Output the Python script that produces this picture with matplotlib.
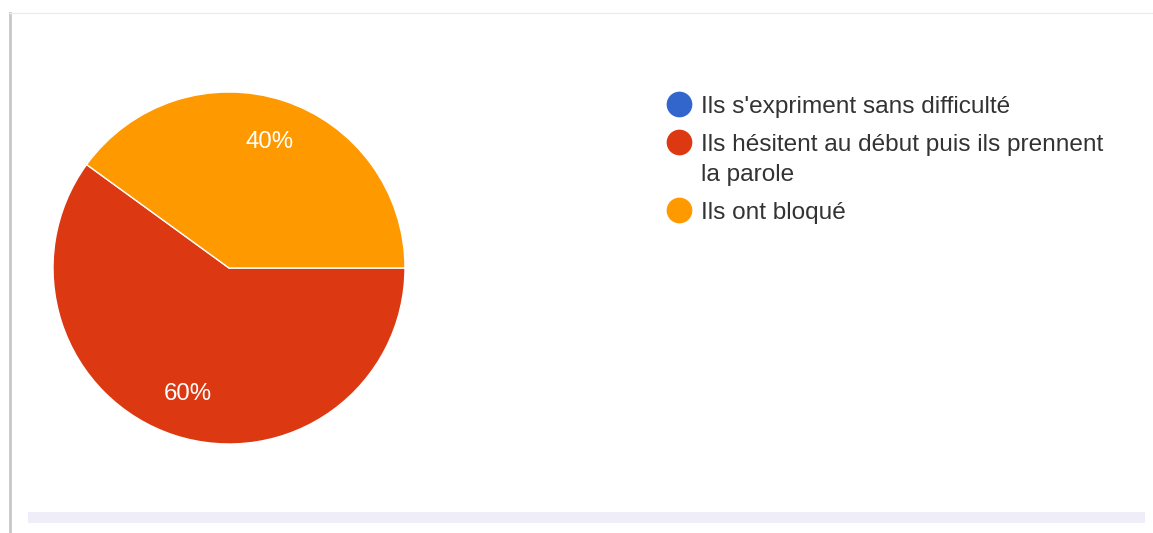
import matplotlib
matplotlib.use("Agg")
import matplotlib.pyplot as plt
from matplotlib.patches import Rectangle
from matplotlib.lines import Line2D

plt.rcParams['font.family'] = ['Liberation Sans', 'DejaVu Sans']

labels = ["Ils s'expriment sans difficulté",
          "Ils hésitent au début puis ils prennent\nla parole",
          "Ils ont bloqué"]
values = [0, 60, 40]
colors = ["#3366cc", "#dc3912", "#ff9900"]

W, H = 1153, 533
fig = plt.figure(figsize=(W / 100, H / 100), dpi=100)
fig.patch.set_facecolor("white")

# overlay in pixel coordinates for frame and legend
ov = fig.add_axes([0, 0, 1, 1])
ov.set_xlim(0, W)
ov.set_ylim(H, 0)
ov.axis("off")
ov.add_line(Line2D([10, 10], [13, H], color="#c8c8c8", lw=2))
ov.add_line(Line2D([10, W], [13, 13], color="#ececec", lw=1))
ov.add_patch(Rectangle((28, 512), 1117, 11, color="#efeef8", lw=0))

# pie
cx, cy, r = 229, 268, 176
ax = fig.add_axes([(cx - r) / W, (H - cy - r) / H, 2 * r / W, 2 * r / H])
wedges, texts, autotexts = ax.pie(
    values, colors=colors, startangle=0, counterclock=False, radius=1,
    autopct=lambda p: f"{p:.0f}%" if p > 0 else "", pctdistance=0.75,
    wedgeprops=dict(edgecolor="white", linewidth=1),
    textprops=dict(color="white", fontsize=17.3))
ax.set_xlim(-1, 1)
ax.set_ylim(-1, 1)
ax.axis("off")

# legend
ys = [104, 142, 210]
line_gap = 30
for lab, col, y in zip(labels, colors, ys):
    ov.plot([679], [y], marker="o", ms=17.5, color=col, mec=col)
    for i, part in enumerate(lab.split("\n")):
        ov.text(701, y + i * line_gap, part, fontsize=17.6, color="#333333",
                va="center_baseline", ha="left")

fig.savefig("out.png", dpi=100)
